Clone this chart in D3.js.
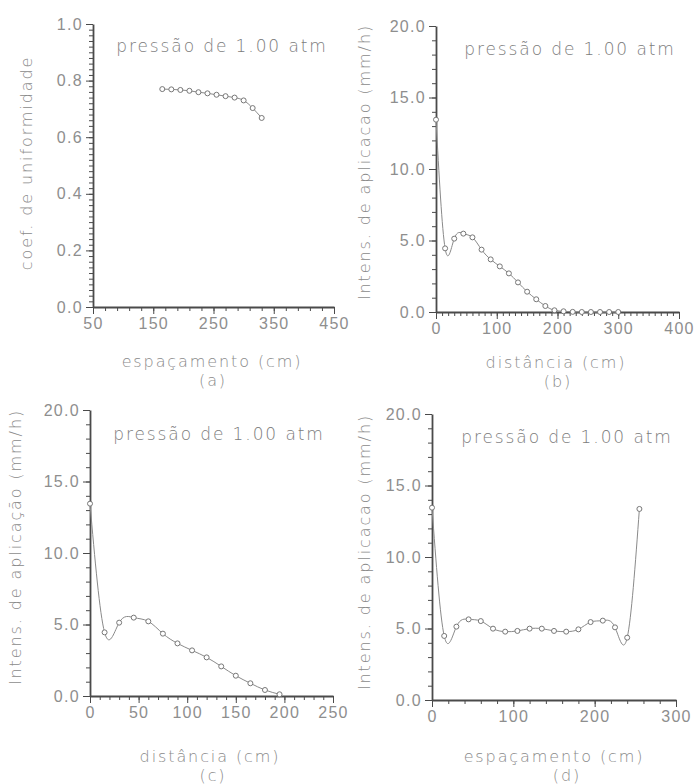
<!DOCTYPE html>
<html>
<head>
<meta charset="utf-8">
<script src="https://cdn.jsdelivr.net/npm/d3@7"></script>
<style>
  html, body { margin: 0; padding: 0; background: #fff; }
  svg { display: block; font-family: "DejaVu Sans", sans-serif; }
  .tick text { fill: #8e8e8e; font-size: 16px; font-weight: 200; letter-spacing: 1.3px; }
  .axis path, .axis line { stroke: #4a4a4a; }
  .axis path { stroke-width: 1.8; }
  .note { fill: #7c7c7c; font-size: 17px; font-weight: 200; letter-spacing: 1.9px; }
  .title { fill: #8a8a8a; font-size: 16px; font-weight: 200; letter-spacing: 1.9px; }
</style>
</head>
<body>
<svg id="chart" width="698" height="784"></svg>
<script>
// (a) uniformity coefficient against sprinkler spacing
const espacamentoA = [165, 180, 195, 210, 225, 240, 255, 270, 285, 300, 315, 330];
const coefUniformidade = [0.770, 0.769, 0.767, 0.764, 0.759, 0.755, 0.750, 0.745, 0.740, 0.730, 0.703, 0.668];

// (b), (c) application rate against distance from the sprinkler
const distancia = [0, 15, 30, 45, 60, 75, 90, 105, 120, 135, 150, 165, 180, 195, 210, 225, 240, 255, 270, 285, 300];
const intensidade = [13.45, 4.45, 5.13, 5.48, 5.22, 4.36, 3.68, 3.19, 2.70, 2.07, 1.42, 0.89, 0.42, 0.12, 0.05, 0.01, 0, 0, 0, 0, 0];

// (d) overlapped application rate across the spacing
const espacamentoD = [0, 15, 30, 45, 60, 75, 90, 105, 120, 135, 150, 165, 180, 195, 210, 225, 240, 255];
const intensidadeD = [13.45, 4.48, 5.13, 5.64, 5.52, 4.99, 4.78, 4.83, 4.99, 4.99, 4.83, 4.78, 4.94, 5.45, 5.55, 5.08, 4.36, 13.36];

// tick values
const ticksXA = [50, 150, 250, 350, 450];
const ticksYA = [0.0, 0.2, 0.4, 0.6, 0.8, 1.0];
const ticksXB = [0, 100, 200, 300, 400];
const ticksXC = [0, 50, 100, 150, 200, 250];
const ticksXD = [0, 100, 200, 300];
const ticksYI = [0, 5, 10, 15, 20];

const nota = "pressão de 1.00 atm";

const svg = d3.select("#chart");

function panel(cfg) {
  const x = d3.scaleLinear().domain(cfg.xDomain).range([cfg.left, cfg.right]);
  const y = d3.scaleLinear().domain(cfg.yDomain).range([cfg.bottom, cfg.top]);
  const g = svg.append("g");

  // minor ticks
  const minorX = d3.range(cfg.xDomain[0], cfg.xDomain[1] + 1e-9, cfg.xMinor);
  const minorY = d3.range(cfg.yDomain[0], cfg.yDomain[1] + 1e-9, cfg.yMinor);
  g.append("g").attr("class", "axis")
    .attr("transform", `translate(0,${cfg.bottom})`)
    .call(d3.axisBottom(x).tickValues(minorX).tickSize(4).tickFormat(""))
    .call(s => s.select(".domain").remove());
  g.append("g").attr("class", "axis")
    .attr("transform", `translate(${cfg.left},0)`)
    .call(d3.axisLeft(y).tickValues(minorY).tickSize(4).tickFormat(""))
    .call(s => s.select(".domain").remove());

  // major ticks and labels
  g.append("g").attr("class", "axis")
    .attr("transform", `translate(0,${cfg.bottom})`)
    .call(d3.axisBottom(x).tickValues(cfg.xTicks).tickSize(7).tickSizeOuter(0).tickPadding(4).tickFormat(d3.format("d")));
  g.append("g").attr("class", "axis")
    .attr("transform", `translate(${cfg.left},0)`)
    .call(d3.axisLeft(y).tickValues(cfg.yTicks).tickSize(7).tickSizeOuter(0).tickPadding(3).tickFormat(d3.format(".1f")));

  // data curve
  const pts = cfg.xs.map((v, i) => [v, cfg.ys[i]]);
  g.append("path")
    .datum(pts)
    .attr("fill", "none")
    .attr("stroke", "#8a8a8a")
    .attr("stroke-width", 1)
    .attr("d", d3.line().x(d => x(d[0])).y(d => y(d[1])).curve(d3.curveNatural));
  g.selectAll("circle.pt").data(pts).join("circle")
    .attr("class", "pt")
    .attr("cx", d => x(d[0])).attr("cy", d => y(d[1]))
    .attr("r", 2.5)
    .attr("fill", "#fff").attr("stroke", "#777").attr("stroke-width", 1);

  // annotations
  g.append("text").attr("class", "note")
    .attr("x", cfg.noteX).attr("y", cfg.noteY).attr("text-anchor", "middle").text(nota);
  g.append("text").attr("class", "title")
    .attr("transform", `translate(${cfg.yTitleX},${cfg.yTitleY}) rotate(-90)`)
    .attr("text-anchor", "middle").attr("dy", "0.35em").text(cfg.yTitle);
  g.append("text").attr("class", "title")
    .attr("x", cfg.xTitleX).attr("y", cfg.xTitleY).attr("text-anchor", "middle").text(cfg.xTitle);
  g.append("text").attr("class", "title")
    .attr("x", cfg.tagX).attr("y", cfg.xTitleY + 19).attr("text-anchor", "middle").text(cfg.tag);
}

panel({
  left: 93, right: 334, top: 24, bottom: 307,
  xDomain: [50, 450], yDomain: [0, 1], xTicks: ticksXA, yTicks: ticksYA, xMinor: 20, yMinor: 0.02,
  xs: espacamentoA, ys: coefUniformidade,
  noteX: 222, noteY: 52,
  yTitle: "coef. de uniformidade", yTitleX: 26, yTitleY: 163,
  xTitle: "espaçamento (cm)", xTitleX: 212, xTitleY: 367, tag: "(a)", tagX: 213
});

panel({
  left: 436, right: 679, top: 26, bottom: 312,
  xDomain: [0, 400], yDomain: [0, 20], xTicks: ticksXB, yTicks: ticksYI, xMinor: 10, yMinor: 1,
  xs: distancia, ys: intensidade,
  noteX: 570, noteY: 55,
  yTitle: "Intens. de aplicacao (mm/h)", yTitleX: 364, yTitleY: 162,
  xTitle: "distância (cm)", xTitleX: 556, xTitleY: 368, tag: "(b)", tagX: 558
});

panel({
  left: 90, right: 333, top: 410, bottom: 696,
  xDomain: [0, 250], yDomain: [0, 20], xTicks: ticksXC, yTicks: ticksYI, xMinor: 10, yMinor: 1,
  xs: distancia.slice(0, 14), ys: intensidade.slice(0, 14),
  noteX: 219, noteY: 440,
  yTitle: "Intens. de aplicação (mm/h)", yTitleX: 15, yTitleY: 547,
  xTitle: "distância (cm)", xTitleX: 210, xTitleY: 762, tag: "(c)", tagX: 213
});

panel({
  left: 432, right: 676, top: 414, bottom: 700,
  xDomain: [0, 300], yDomain: [0, 20], xTicks: ticksXD, yTicks: ticksYI, xMinor: 20, yMinor: 1,
  xs: espacamentoD, ys: intensidadeD,
  noteX: 567, noteY: 443,
  yTitle: "Intens. de aplicacao (mm/h)", yTitleX: 364, yTitleY: 552,
  xTitle: "espaçamento (cm)", xTitleX: 554, xTitleY: 762, tag: "(d)", tagX: 567
});
</script>
</body>
</html>
